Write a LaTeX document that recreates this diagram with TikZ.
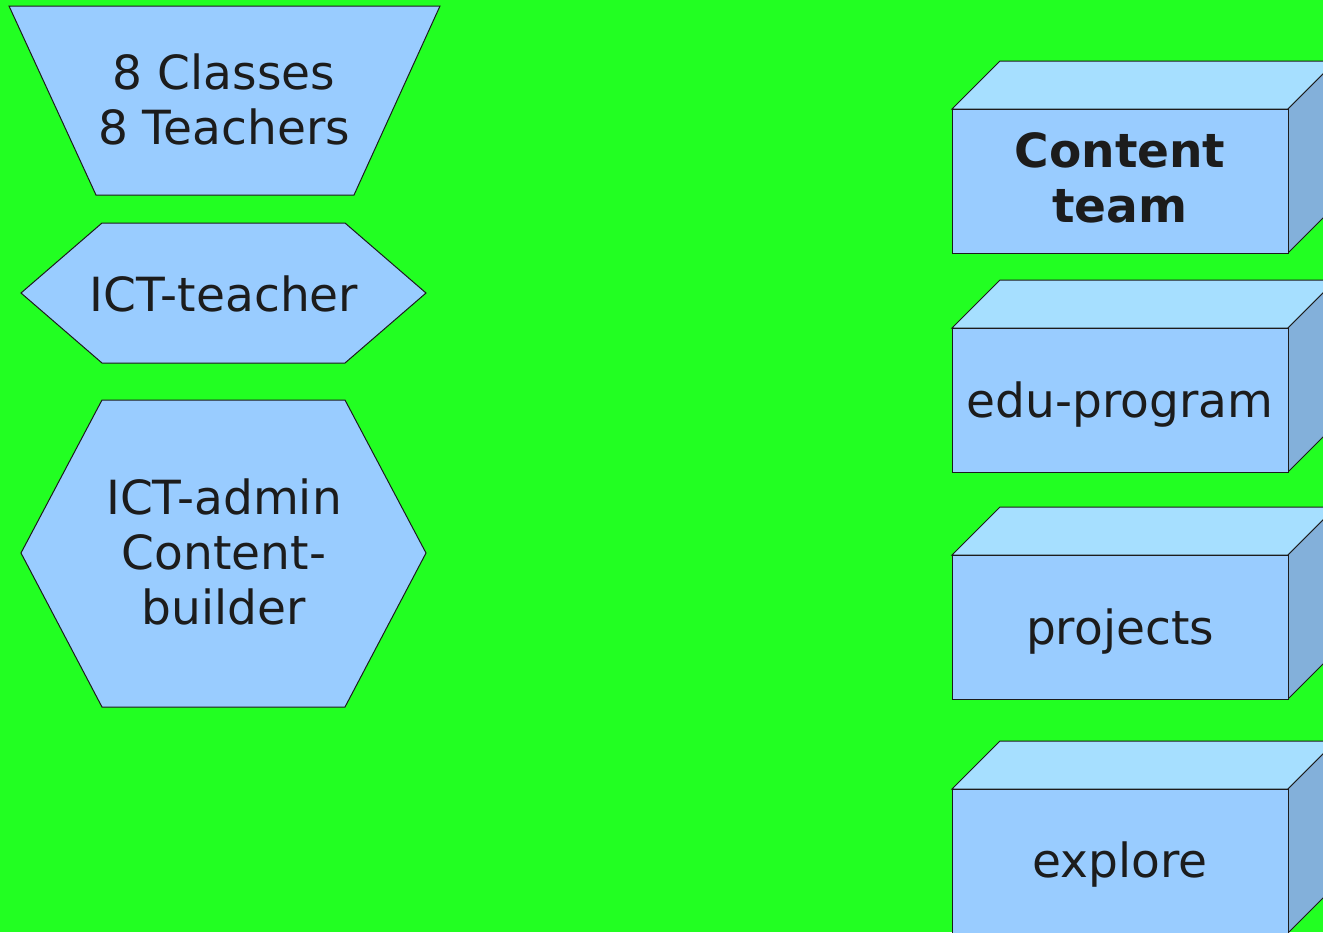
\documentclass[tikz,border=0pt]{standalone}
\usepackage{fontspec}
\setmainfont{DejaVu Sans}
\definecolor{bggreen}{HTML}{22FF22}
\definecolor{shapeblue}{HTML}{99CCFF}
\definecolor{topblue}{HTML}{A6DFFF}
\definecolor{sideblue}{HTML}{83B0DA}
\definecolor{inkgray}{HTML}{1C1C1C}

\begin{document}
\begin{tikzpicture}[x=0.75pt, y=-0.75pt, line join=miter,
    plate/.style={draw=inkgray, line width=0.75pt, fill=shapeblue},
    topface/.style={plate, fill=topblue},
    sideface/.style={plate, fill=sideblue},
    boxtext/.style={text=inkgray, align=center, inner sep=0pt, font=\fontsize{35.3}{41.25}\selectfont}]
    \useasboundingbox (0,0) rectangle (1323,932);
    \clip (0,0) rectangle (1323,932);
    \fill[bggreen] (0,0) rectangle (1323,932);

    % Left shapes
    \draw[plate] (9,6) -- (440,6) -- (354,195) -- (96,195) -- cycle;
    \draw[plate] (21,293) -- (102,223) -- (345,223) -- (426,293) -- (345,363) -- (102,363) -- cycle;
    \draw[plate] (21,553) -- (102,400) -- (345,400) -- (426,553) -- (345,707) -- (102,707) -- cycle;

    % Boxes
    \foreach \t in {109,328,555,789} {
        \draw[topface] (952,\t) -- (1000,\t-48) -- (1336,\t-48) -- (1288,\t) -- cycle;
        \draw[sideface] (1288,\t) -- (1336,\t-48) -- (1336,\t+96) -- (1288,\t+144) -- cycle;
        \draw[plate] (952,\t) rectangle (1288,\t+144);
    }

    % Texts
    \node[boxtext] (classes) at (224,99) {8 Classes\\8 Teachers};
    \node[boxtext, anchor=base] (ictteacher) at (224,311) {ICT-teacher};
    \node[boxtext] (ictadmin) at (224,552) {ICT-admin\\Content-\\builder};
    \node[boxtext, font=\fontsize{35.3}{41.25}\selectfont\bfseries] (contentteam) at (1120,178) {Content\\team};
    \node[boxtext, anchor=base] (eduprogram) at (1120,417) {edu-program};
    \node[boxtext, anchor=base] (projects) at (1120,644) {projects};
    \node[boxtext, anchor=base] (explore) at (1120,877) {explore};
\end{tikzpicture}
\end{document}
